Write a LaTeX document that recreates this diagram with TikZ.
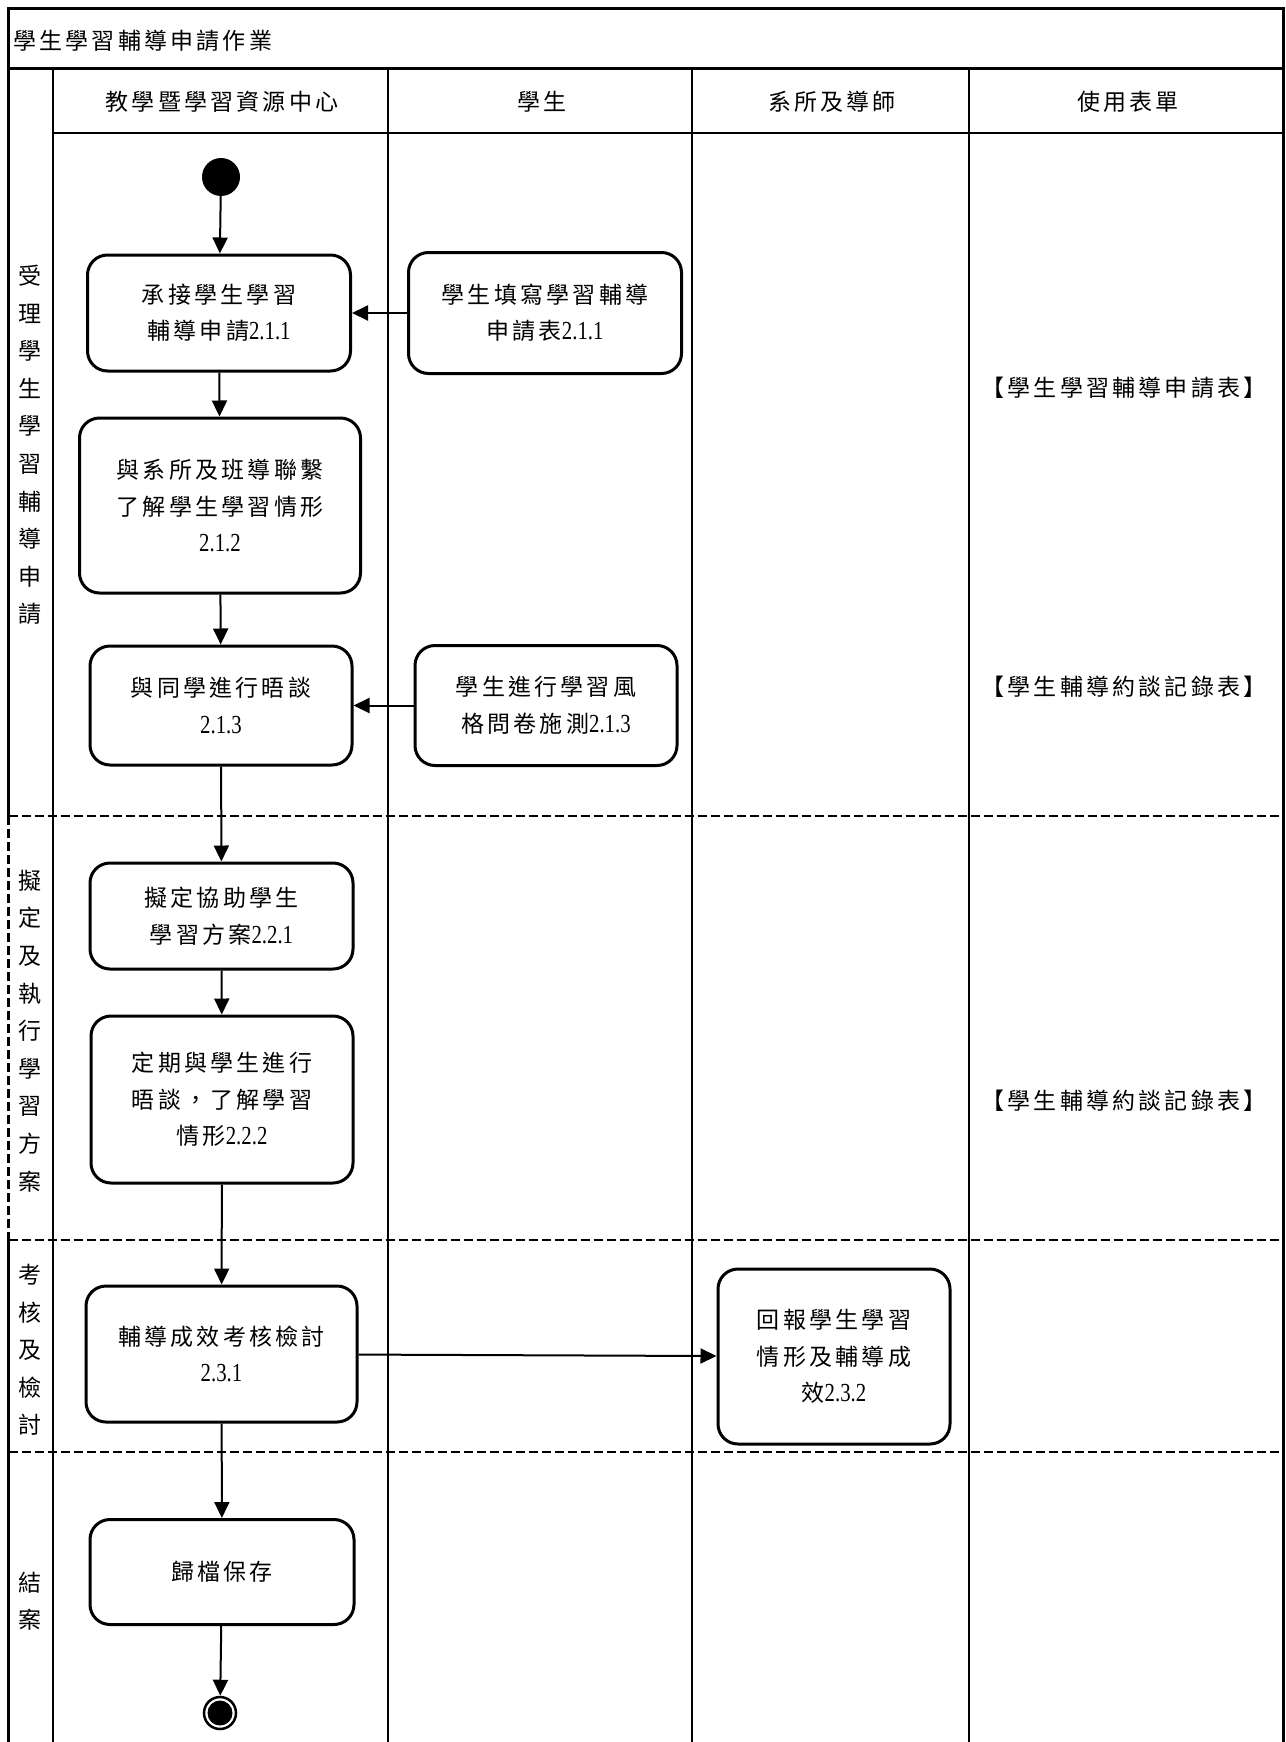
\documentclass[tikz,border=0pt]{standalone}
\usepackage{fontspec}
\setmainfont[FakeStretch=0.8]{Liberation Serif}
\newfontfamily\cjk[LetterSpace=14]{Noto Sans CJK TC}
\newfontfamily\cjkn{Noto Sans CJK TC}
\usetikzlibrary{arrows.meta}
\newcommand\nm[1]{{\rmfamily\fontsize{26}{36.6}\selectfont #1}}
\tikzset{
  box/.style={draw, line width=3pt, rounded corners=20pt, inner sep=0pt, align=center,
    font=\cjk\fontsize{23}{36.6}\selectfont},
  arr/.style={line width=2pt, -{Triangle[length=16pt,width=15pt]}},
  gridline/.style={line width=2.5pt},
  outer/.style={line width=3pt},
  dsh/.style={line width=2.5pt, dash pattern=on 9pt off 4pt},
  lanelbl/.style={font=\cjkn\fontsize{23}{37.6}\selectfont, align=center, inner sep=0pt},
  txt/.style={font=\cjk\fontsize{23}{26}\selectfont, inner sep=0pt},
}
\begin{document}
\begin{tikzpicture}[x=1pt,y=-1pt]
\useasboundingbox (0,0) rectangle (1285,1742);
% table
\draw[outer] (8.5,816) -- (8.5,9) -- (1283,9) -- (1283,1742);
\draw[outer] (8.5,1240) -- (8.5,1742);
\draw[dsh] (8.5,816) -- (8.5,1240);
\draw[outer] (8.5,69) -- (1283,69);
\draw[gridline] (53,133) -- (1283,133);
\foreach \xx in {53,388,692,969} \draw[gridline] (\xx,69) -- (\xx,1742);
\foreach \yy in {816,1240,1452} \draw[dsh] (8.5,\yy) -- (1283,\yy);
% title and headers
\node[txt, anchor=west] (title) at (13,41) {學生學習輔導申請作業};
\node[txt] (h1) at (222,102) {教學暨學習資源中心};
\node[txt] (h2) at (542,102) {學生};
\node[txt] (h3) at (832,102) {系所及導師};
\node[txt] (h4) at (1128,102) {使用表單};
% lane labels
\node[lanelbl] (L1) at (30,445) {受\\理\\學\\生\\學\\習\\輔\\導\\申\\請};
\node[lanelbl] (L2) at (30,1031) {擬\\定\\及\\執\\行\\學\\習\\方\\案};
\node[lanelbl] (L3) at (30,1350) {考\\核\\及\\檢\\討};
\node[lanelbl] (L4) at (30,1601) {結\\案};
% forms
\node[txt] (f1) at (1124,388) {【學生學習輔導申請表】};
\node[txt] (f2) at (1124,687) {【學生輔導約談記錄表】};
\node[txt] (f3) at (1124,1101) {【學生輔導約談記錄表】};
% start / end
\node[circle, fill=black, minimum size=38pt, inner sep=0pt] (start) at (221,177) {};
\node[circle, draw=black, line width=2.5pt, fill=white, minimum size=32pt, inner sep=0pt] (end) at (220,1713) {};
\fill[black] (end.center) circle[radius=12.5];
% activities
\node[box, minimum width=263pt, minimum height=116pt] (A) at (219,313) {承接學生學習\\輔導申請\nm{2.1.1}};
\node[box, minimum width=273pt, minimum height=121pt] (B) at (545,313) {學生填寫學習輔導\\申請表\nm{2.1.1}};
\node[box, minimum width=281pt, minimum height=175pt] (C) at (220,505.5) {與系所及班導聯繫\\了解學生學習情形\\\nm{2.1.2}};
\node[box, minimum width=262pt, minimum height=119pt] (D) at (221,705.5) {與同學進行晤談\\\nm{2.1.3}};
\node[box, minimum width=262pt, minimum height=120pt] (E) at (546,705.5) {學生進行學習風\\格問卷施測\nm{2.1.3}};
\node[box, minimum width=263pt, minimum height=106pt] (F) at (221.5,916) {擬定協助學生\\學習方案\nm{2.2.1}};
\node[box, minimum width=262pt, minimum height=167pt] (G) at (222,1099.5) {定期與學生進行\\晤談，了解學習\\情形\nm{2.2.2}};
\node[box, minimum width=271pt, minimum height=136pt] (H) at (221.5,1354) {輔導成效考核檢討\\\nm{2.3.1}};
\node[box, minimum width=232pt, minimum height=175pt] (I) at (834,1356.5) {回報學生學習\\情形及輔導成\\效\nm{2.3.2}};
\node[box, minimum width=264pt, minimum height=105pt] (J) at (222,1572) {歸檔保存};
% connectors
\draw[arr] (start) -- (A);
\draw[arr] (B) -- (A);
\draw[arr] (A) -- (C);
\draw[arr] (C) -- (D);
\draw[arr] (E) -- (D);
\draw[arr] (D) -- (F);
\draw[arr] (F) -- (G);
\draw[arr] (G) -- (H);
\draw[arr] (H) -- (I);
\draw[arr] (H) -- (J);
\draw[arr] (J) -- (end);
\end{tikzpicture}
\end{document}
